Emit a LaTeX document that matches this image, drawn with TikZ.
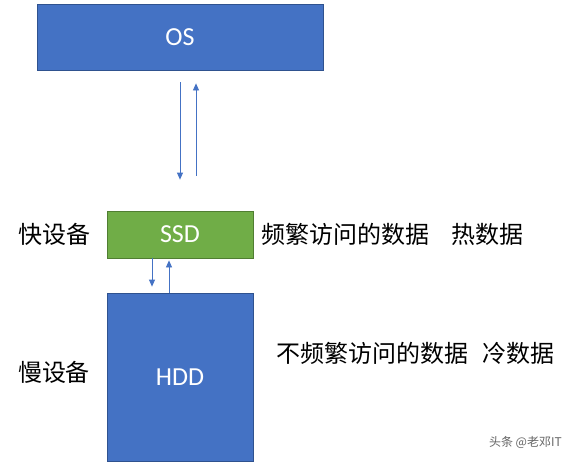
\documentclass[tikz,border=0pt]{standalone}
\usepackage{fontspec}
\setmainfont{Carlito}
\newfontfamily\cjk{Noto Sans CJK SC}
\usetikzlibrary{positioning, arrows.meta}
\definecolor{osblue}{HTML}{4472C4}
\definecolor{edgeblue}{HTML}{2F528F}
\definecolor{ssdgreen}{HTML}{70AD47}
\definecolor{ssdedge}{HTML}{507E32}

\begin{document}
\begin{tikzpicture}[x=1pt, y=-1pt,
    devbox/.style={draw=edgeblue, line width=0.8pt, fill=osblue, text=white,
      inner sep=0pt, font=\fontsize{26}{30}\selectfont},
    flow/.style={draw=osblue, line width=0.8pt, -{Triangle[length=7pt, width=6pt]}},
    note/.style={inner sep=0pt, font=\cjk\fontsize{24}{28}\selectfont}]
  \useasboundingbox (0,0) rectangle (576,464);
  \fill[white] (0,0) rectangle (576,464);

  \node[devbox, minimum width=286pt, minimum height=66pt] (os) at (180,37) {OS};
  \node[devbox, fill=ssdgreen, draw=ssdedge, minimum width=146pt, minimum height=47pt]
    (ssd) at (180,234.5) {SSD};
  \node[devbox, minimum width=146pt, minimum height=168pt] (hdd) at (180,377) {HDD};

  % os <-> ssd
  \draw[flow, shorten <=12pt, shorten >=31pt] (os.south) -- (ssd.north);
  \draw[flow, shorten <=35pt, shorten >=13pt] ([xshift=16pt]ssd.north) -- ([xshift=16pt]os.south);
  % ssd <-> hdd
  \draw[flow, shorten >=6pt] ([xshift=-28pt]ssd.south) -- ([xshift=-28pt]hdd.north);
  \draw[flow, shorten >=2pt] ([xshift=-11pt]hdd.north) -- ([xshift=-11pt]ssd.south);

  \node[note, left=16pt of ssd] (fast) {快设备};
  \node[note, right=8pt of ssd] (hot) {频繁访问的数据\hspace{0.9em}热数据};
  \node[note] (slow) at (54,372) {慢设备};
  \node[note, anchor=west] (cold) at (276,353) {不频繁访问的数据\hspace{0.6em}冷数据};
  \node[inner sep=0pt, anchor=east, text=gray!80!black, font=\cjk\fontsize{12}{14}\selectfont]
    (mark) at (562,442) {头条 @老邓IT};
\end{tikzpicture}
\end{document}
